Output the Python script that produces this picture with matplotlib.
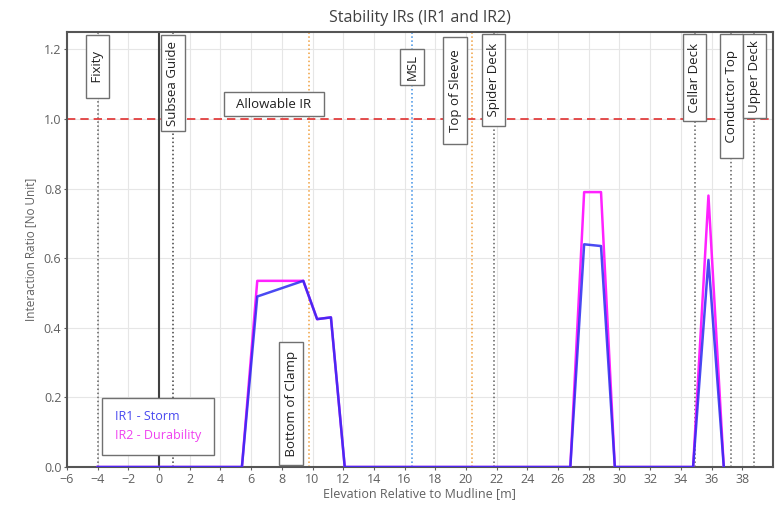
import matplotlib
matplotlib.use("Agg")
from matplotlib import pyplot as plt
import numpy as np

# elevation [m] and interaction ratios
elevation = [-4, 5.4, 6.4, 9.4, 10.3, 11.2, 12.1, 26.8, 27.7, 28.8, 29.7, 34.8, 35.8, 36.8]
ir1_storm = [0, 0, 0.49, 0.535, 0.425, 0.43, 0, 0, 0.64, 0.635, 0, 0, 0.595, 0]
ir2_durability = [0, 0, 0.535, 0.535, 0.425, 0.43, 0, 0, 0.79, 0.79, 0, 0, 0.78, 0]

allowable_ir = 1.0

# marker levels: name, elevation, line colour
level_names = ["Fixity", "Subsea Guide", "Bottom of Clamp", "MSL", "Top of Sleeve",
               "Spider Deck", "Cellar Deck", "Conductor Top", "Upper Deck"]
level_elev = [-4, 0.9, 9.8, 16.5, 20.4, 21.8, 34.9, 37.3, 38.8]
level_color = ["#606060", "#404040", "#f0a040", "#3a8ee6", "#f0a040",
               "#606060", "#606060", "#606060", "#606060"]
# where each label box sits (x, y, vertical anchor, extra blank padding)
label_x = [-4, 0.9, 8.6, 16.5, 19.3, 21.8, 34.9, 37.3, 38.8]
label_y = [1.225, 1.225, 0.02, 1.187, 1.22, 1.228, 1.228, 1.228, 1.228]
label_va = ["top", "top", "bottom", "top", "top", "top", "top", "top", "top"]
label_pad = [3, 0, 1, 0, 2, 1, 1, 3, 0]

plt.rcParams["font.family"] = ["Open Sans", "DejaVu Sans"]

fig = plt.figure(figsize=(7.76, 5.05), dpi=100)
ax = fig.add_axes([0.0863, 0.0752, 0.9097, 0.8614])

ax.set_xlim(-6, 40)
ax.set_ylim(0, 1.25)
ax.set_xticks(np.arange(-6, 40, 2))
ax.set_yticks(np.arange(0, 1.21, 0.2))
ax.yaxis.set_major_formatter(matplotlib.ticker.FormatStrFormatter("%.1f"))
ax.grid(True, color="#e6e6e6", lw=0.8)
ax.set_axisbelow(True)
ax.tick_params(labelsize=9, colors="#606060", length=2, pad=2)
for s in ax.spines.values():
    s.set_color("#555555")
    s.set_linewidth(1.5)

# vertical level lines
ax.axvline(0, color="#404040", lw=1.5)
for xe, c in zip(level_elev, level_color):
    ax.axvline(xe, color=c, lw=1.1, ls=":")

ax.axhline(allowable_ir, color="#e03030", lw=1.2, ls=(0, (5, 3)))

box = dict(boxstyle="square,pad=0.4", fc="white", ec="#707070", lw=1)
for name, lx, ly, va, npad in zip(level_names, label_x, label_y, label_va, label_pad):
    sp = " " * npad
    ax.text(lx, ly, sp + name + sp, rotation=90, ha="center", va=va,
            fontsize=9.5, color="#202020", bbox=box, zorder=5)

ax.text(7.47, 1.043, "  Allowable IR  ", ha="center", va="center", fontsize=9.5,
        color="#202020", bbox=box, zorder=5)

l2, = ax.plot(elevation, ir2_durability, color="#ff22ff", lw=1.8, label="IR2 - Durability", zorder=3)
l1, = ax.plot(elevation, ir1_storm, color="#2a2af0", lw=1.8, alpha=0.85, label="IR1 - Storm", zorder=4)

leg = ax.legend(handles=[l1, l2], loc="lower left", bbox_to_anchor=(0.05, 0.028),
                borderaxespad=0, handlelength=0, handletextpad=0, fontsize=9,
                fancybox=False, framealpha=1, edgecolor="#707070",
                borderpad=1.0, labelspacing=0.5)
leg.get_frame().set_linewidth(1)
for t, c in zip(leg.get_texts(), ["#4848f0", "#f040f0"]):
    t.set_color(c)
leg.set_zorder(6)

ax.set_title("Stability IRs (IR1 and IR2)", fontsize=11.5, color="#404040", pad=7)
ax.set_xlabel("Elevation Relative to Mudline [m]", fontsize=9, color="#606060", labelpad=1)
ax.set_ylabel("Interaction Ratio [No Unit]", fontsize=8.5, color="#606060", labelpad=5)

fig.savefig("out.png", dpi=100)
